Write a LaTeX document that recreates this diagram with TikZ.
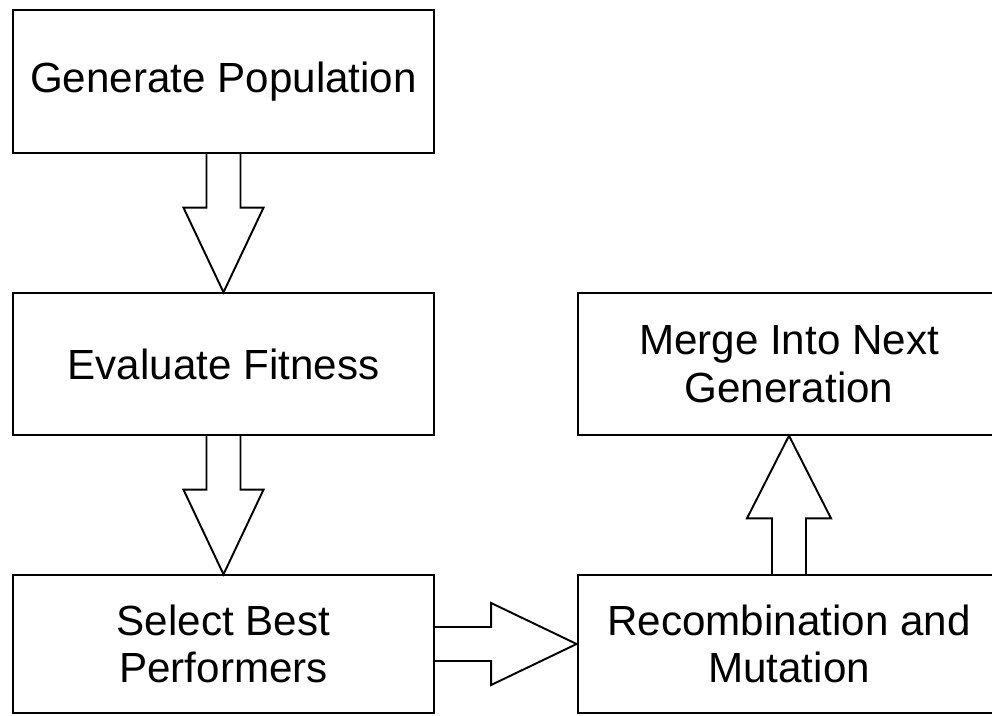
\documentclass[tikz,border=0pt]{standalone}
\usepackage{fontspec}
\setmainfont{Liberation Sans}
\usetikzlibrary{calc, positioning}

\begin{document}
\begin{tikzpicture}[x=0.02cm, y=-0.02cm, line width=1.1pt,
    stage/.style={draw, rectangle, align=center, inner sep=0pt,
      font=\fontsize{24}{27}\selectfont}]
      \useasboundingbox (0,0) rectangle (992,716);
      \node[stage, minimum width=239.8pt, minimum height=81.1pt] (gen) at (223.5,81.5) {Generate Population};
      \node[stage, minimum width=239.8pt, minimum height=80.5pt] (eval) at (223.5,364) {Evaluate Fitness};
      \node[stage, minimum width=239.8pt, minimum height=78.2pt] (sel) at (223.5,644) {Select Best\\Performers};
      \node[stage, minimum width=260pt, minimum height=80.5pt] (merge) at (806,364) {Merge Into Next\hspace*{19.3pt}\\Generation\hspace*{19.3pt}};
      \node[stage, minimum width=260pt, minimum height=78.2pt] (recomb) at (806,644) {Recombination and\hspace*{19.3pt}\\Mutation\hspace*{19.3pt}};
      \draw ($(gen.south)+(-17,0)$) -- ++(0,54) -- ++(-23,0) -- (eval.north) -- ($(gen.south)+(40,54)$) -- ++(-23,0) -- ($(gen.south)+(17,0)$);
      \draw ($(eval.south)+(-17,0)$) -- ++(0,54) -- ++(-23,0) -- (sel.north) -- ($(eval.south)+(40,54)$) -- ++(-23,0) -- ($(eval.south)+(17,0)$);
      \draw ($(sel.east)+(0,-17)$) -- ++(56,0) -- ++(0,-24) -- (recomb.west) -- ($(sel.east)+(56,41)$) -- ++(0,-24) -- ($(sel.east)+(0,17)$);
      \draw ($(recomb.north)+(-34,0)$) -- ++(0,-56) -- ++(-25,0) -- ($(merge.south)+(-17,0)$) -- ($(recomb.north)+(25,-56)$) -- ++(-25,0) -- ($(recomb.north)+(0,0)$);
\end{tikzpicture}
\end{document}
